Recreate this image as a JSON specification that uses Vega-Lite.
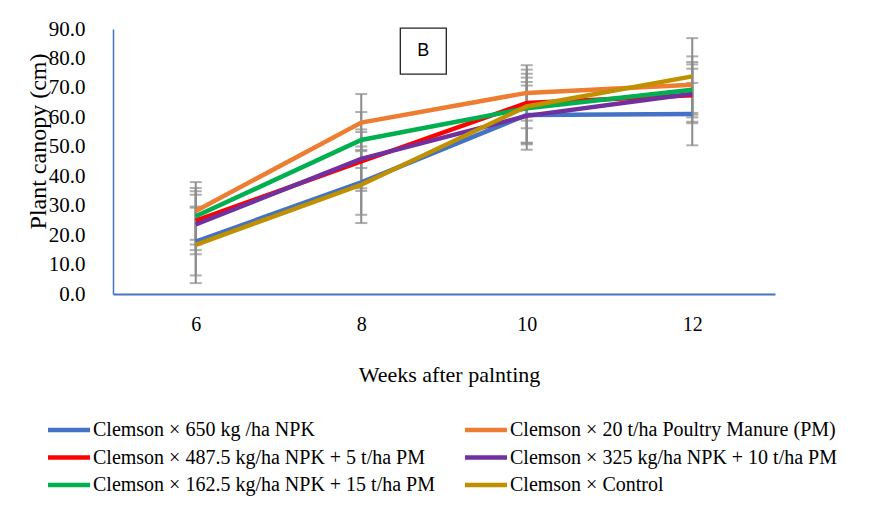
{
  "$schema": "https://vega.github.io/schema/vega-lite/v6.json",
  "width": 662,
  "height": 265,
  "autosize": {"type": "none"},
  "padding": {"left": 113, "top": 29, "right": 113, "bottom": 231},
  "background": "white",
  "config": {
    "view": {"stroke": null},
    "font": "Liberation Serif",
    "axis": {"labelFont": "Liberation Serif", "titleFont": "Liberation Serif"}
  },
  "datasets": {
    "canopy": [
      {"treatment": "Clemson × 650 kg /ha NPK", "week": 6, "canopy": 17.8, "sd": 11.5},
      {"treatment": "Clemson × 650 kg /ha NPK", "week": 8, "canopy": 37.9, "sd": 11.0},
      {"treatment": "Clemson × 650 kg /ha NPK", "week": 10, "canopy": 60.8, "sd": 10.0},
      {"treatment": "Clemson × 650 kg /ha NPK", "week": 12, "canopy": 61.1, "sd": 10.6},
      {"treatment": "Clemson × 20 t/ha Poultry Manure (PM)", "week": 6, "canopy": 28.2, "sd": 9.8},
      {"treatment": "Clemson × 20 t/ha Poultry Manure (PM)", "week": 8, "canopy": 58.2, "sd": 9.7},
      {"treatment": "Clemson × 20 t/ha Poultry Manure (PM)", "week": 10, "canopy": 68.3, "sd": 9.4},
      {"treatment": "Clemson × 20 t/ha Poultry Manure (PM)", "week": 12, "canopy": 71.1, "sd": 9.6},
      {"treatment": "Clemson × 487.5 kg/ha NPK + 5 t/ha PM", "week": 6, "canopy": 24.9, "sd": 10.0},
      {"treatment": "Clemson × 487.5 kg/ha NPK + 5 t/ha PM", "week": 8, "canopy": 45.0, "sd": 10.0},
      {"treatment": "Clemson × 487.5 kg/ha NPK + 5 t/ha PM", "week": 10, "canopy": 64.9, "sd": 8.6},
      {"treatment": "Clemson × 487.5 kg/ha NPK + 5 t/ha PM", "week": 12, "canopy": 67.5, "sd": 9.0},
      {"treatment": "Clemson × 325 kg/ha NPK + 10 t/ha PM", "week": 6, "canopy": 23.6, "sd": 10.1},
      {"treatment": "Clemson × 325 kg/ha NPK + 10 t/ha PM", "week": 8, "canopy": 45.9, "sd": 10.0},
      {"treatment": "Clemson × 325 kg/ha NPK + 10 t/ha PM", "week": 10, "canopy": 60.5, "sd": 11.5},
      {"treatment": "Clemson × 325 kg/ha NPK + 10 t/ha PM", "week": 12, "canopy": 68.0, "sd": 10.0},
      {"treatment": "Clemson × 162.5 kg/ha NPK + 15 t/ha PM", "week": 6, "canopy": 26.4, "sd": 9.6},
      {"treatment": "Clemson × 162.5 kg/ha NPK + 15 t/ha PM", "week": 8, "canopy": 52.3, "sd": 9.5},
      {"treatment": "Clemson × 162.5 kg/ha NPK + 15 t/ha PM", "week": 10, "canopy": 63.1, "sd": 11.7},
      {"treatment": "Clemson × 162.5 kg/ha NPK + 15 t/ha PM", "week": 12, "canopy": 69.4, "sd": 9.4},
      {"treatment": "Clemson ×  Control", "week": 6, "canopy": 16.7, "sd": 13.0},
      {"treatment": "Clemson ×  Control", "week": 8, "canopy": 37.1, "sd": 13.0},
      {"treatment": "Clemson ×  Control", "week": 10, "canopy": 63.7, "sd": 12.5},
      {"treatment": "Clemson ×  Control", "week": 12, "canopy": 73.9, "sd": 13.0}
    ],
    "panel": [
      {"week": 8.75, "canopy": 82.5, "label": "B"}
    ]
  },
  "encoding": {
    "x": {
      "field": "week", "type": "quantitative",
      "scale": {"domain": [5, 13], "nice": false, "zero": false},
      "axis": {
        "title": "Weeks after palnting", "values": [6, 8, 10, 12], "format": "d",
        "grid": false, "ticks": false, "labelOverlap": false,
        "labelFont": "Times New Roman", "labelFontSize": 20, "labelColor": "black", "labelPadding": 20,
        "titleFont": "Times New Roman", "titleFontSize": 22, "titleFontWeight": "normal", "titleColor": "black",
        "titleX": 336, "titleY": 80, "titleBaseline": "middle",
        "domainColor": "#4472C4", "domainWidth": 2
      }
    },
    "y": {
      "field": "canopy", "type": "quantitative",
      "scale": {"domain": [0, 90], "nice": false},
      "axis": {
        "title": "Plant canopy (cm)", "values": [0, 10, 20, 30, 40, 50, 60, 70, 80, 90], "format": ".1f",
        "grid": false, "ticks": false, "labelOverlap": false,
        "labelFont": "Times New Roman", "labelFontSize": 21, "labelColor": "black", "labelPadding": 28,
        "titleFont": "Liberation Serif", "titleFontSize": 24, "titleFontWeight": "normal", "titleColor": "black",
        "titleX": -75, "titleY": 112, "titleBaseline": "middle",
        "domainColor": "#4472C4", "domainWidth": 1.5
      }
    }
  },
  "layer": [
    {
      "data": {"name": "canopy"},
      "mark": {"type": "errorbar", "color": "#8C8C8C", "thickness": 2, "ticks": {"size": 12, "thickness": 2, "color": "#8C8C8C"}},
      "encoding": {
        "yError": {"field": "sd"}
      }
    },
    {
      "data": {"name": "canopy"},
      "mark": {"type": "line", "strokeWidth": 4.5, "strokeJoin": "miter"},
      "encoding": {
        "color": {
          "field": "treatment", "type": "nominal",
          "scale": {
            "domain": ["Clemson × 650 kg /ha NPK", "Clemson × 20 t/ha Poultry Manure (PM)", "Clemson × 487.5 kg/ha NPK + 5 t/ha PM", "Clemson × 325 kg/ha NPK + 10 t/ha PM", "Clemson × 162.5 kg/ha NPK + 15 t/ha PM", "Clemson ×  Control"],
            "range": ["#4472C4", "#ED7D31", "#FF0000", "#7030A0", "#00B050", "#BF9000"]
          },
          "legend": {
            "title": null, "orient": "none", "legendX": -54, "legendY": 391,
            "direction": "horizontal", "columns": 2, "columnPadding": 20, "rowPadding": 7.5,
            "padding": 0, "symbolType": "M-3,0H3", "symbolSize": 196, "symbolStrokeWidth": 4.5,
            "labelOffset": 14, "labelFont": "Liberation Serif", "labelFontSize": 20, "labelColor": "black", "labelLimit": 600
          }
        }
      }
    },
    {
      "data": {"name": "panel"},
      "mark": {"type": "point", "shape": "square", "size": 2116, "filled": true, "fill": "white", "stroke": "#222222", "strokeWidth": 1.3, "opacity": 1}
    },
    {
      "data": {"name": "panel"},
      "mark": {"type": "text", "font": "Liberation Sans", "fontSize": 18, "color": "black", "baseline": "middle", "align": "center"},
      "encoding": {
        "text": {"field": "label"}
      }
    }
  ]
}
